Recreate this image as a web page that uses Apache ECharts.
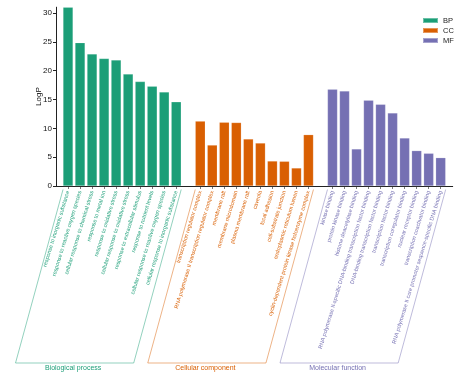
<!DOCTYPE html>
<html><head><meta charset="utf-8">
<script src="https://cdn.jsdelivr.net/npm/echarts@6/dist/echarts.min.js"></script>
<style>html,body{margin:0;padding:0;background:#fff}#c{width:460px;height:381px}</style>
</head><body><div id="c"></div>
<script>
const bpTerms = ['response to inorganic substance','response to reactive oxygen species','cellular response to chemical stress','response to metal ion','response to oxidative stress','cellular response to oxidative stress','response to extracellular stimulus','response to nutrient levels','cellular response to reactive oxygen species','cellular response to inorganic substance'];
const bpValues = [31.0, 24.85, 22.9, 22.1, 21.85, 19.4, 18.1, 17.3, 16.3, 14.6];
const ccTerms = ['transcription regulator complex','RNA polymerase II transcription regulator complex','membrane raft','membrane microdomain','plasma membrane raft','caveola','focal adhesion','cell-substrate junction','endoplasmic reticulum lumen','cyclin-dependent protein kinase holoenzyme complex'];
const ccValues = [11.25, 7.1, 11.05, 11.0, 8.15, 7.45, 4.33, 4.28, 3.12, 8.9];
const mfTerms = ['kinase binding','protein kinase binding','histone deacetylase binding','RNA polymerase II-specific DNA-binding transcription factor binding','DNA-binding transcription factor binding','transcription factor binding','transcription coregulator binding','nuclear receptor binding','transcription coactivator binding','RNA polymerase II core promoter sequence-specific DNA binding'];
const mfValues = [16.76, 16.47, 6.42, 14.86, 14.16, 12.66, 8.32, 6.13, 5.67, 4.91];
const seriesNames = ['BP','CC','MF'];
const groupNames = ['Biological process','Cellular component','Molecular function'];
const colors = ['#1b9e77','#d95f02','#7570b3'];
const yTickValues = [0,5,10,15,20,25,30];

const groups = [bpTerms, ccTerms, mfTerms];
const groupVals = [bpValues, ccValues, mfValues];
const categories = [];
const catGroup = [];
const seriesData = [[],[],[]];
const groupIdx = [];
let blank = ' ';
function pushBlank(){ categories.push(blank); blank += ' '; catGroup.push(-1); for(let s=0;s<3;s++) seriesData[s].push(null); }
pushBlank();
groups.forEach((terms, g) => {
  const idx = [];
  terms.forEach((t, i) => {
    idx.push(categories.length);
    categories.push(t); catGroup.push(g);
    for (let s=0;s<3;s++) seriesData[s].push(s===g ? groupVals[g][i] : null);
  });
  groupIdx.push(idx);
  pushBlank();
});

const chart = echarts.init(document.getElementById('c'), null, {renderer:'canvas'});
const FONT = 'Liberation Sans, Arial, sans-serif';
chart.setOption({
  animation:false,
  textStyle:{fontFamily:FONT},
  grid:{left:56, right:7.3, top:7.2, bottom:195, containLabel:false},
  legend:{orient:'vertical', left:417, top:11, itemWidth:15, itemHeight:5, itemGap:1,
    icon:'rect', data:seriesNames,
    textStyle:{fontSize:7.5, lineHeight:9, color:'#222', fontFamily:FONT}},
  xAxis:{type:'category', data:categories, boundaryGap:false,
    axisLine:{lineStyle:{color:'#222', width:1}},
    axisTick:{show:true, length:3, lineStyle:{color:'#222', width:0.6},
      interval:(i, v)=> v.trim() !== ''},
    axisLabel:{interval:0, rotate:73, fontSize:5.5, margin:5, fontFamily:FONT,
      color:(v, i)=> { const g = catGroup[i]; return g>=0 ? colors[g] : '#fff'; }},
    splitLine:{show:false}},
  yAxis:{type:'value', min:0, max:31, interval:5,
    name:'LogP', nameLocation:'middle', nameGap:13, nameMoveOverlap:false,
    nameTextStyle:{fontSize:8, color:'#111', fontFamily:FONT},
    axisLine:{show:true, lineStyle:{color:'#222', width:1}},
    axisTick:{show:true, length:3, lineStyle:{color:'#222'}},
    axisLabel:{fontSize:8, color:'#111', margin:4, showMaxLabel:false, fontFamily:FONT},
    splitLine:{show:false}},
  series: seriesNames.map((n, s) => ({
    name:n, type:'bar', stack:'all', data:seriesData[s], barWidth:10,
    itemStyle:{color:colors[s], borderColor:'rgba(255,255,255,0.35)', borderWidth:0.5}
  }))
});

// brackets
const y0 = chart.convertToPixel({yAxisIndex:0}, 0);
const topY = y0 + 3.5, botY = y0 + 177;
const slopeDx = 47.5;
const graphics = [];
groupIdx.forEach((idx, g) => {
  const xL = chart.convertToPixel({xAxisIndex:0}, idx[0]) - 5;
  const xR = chart.convertToPixel({xAxisIndex:0}, idx[idx.length-1]) + 5;
  graphics.push({type:'polyline', silent:true,
    shape:{points:[[xL, topY],[xL - slopeDx, botY],[xR - slopeDx, botY],[xR, topY]]},
    style:{stroke:colors[g], lineWidth:0.6, fill:null, opacity:0.8}});
  graphics.push({type:'text', silent:true,
    style:{text:groupNames[g], x:(xL + xR)/2 - slopeDx - 1.5, y:botY + 5, align:'center', verticalAlign:'middle',
      fontSize:7, fill:colors[g], fontFamily:FONT}});
});
chart.setOption({graphic:graphics});
</script>
</body></html>
